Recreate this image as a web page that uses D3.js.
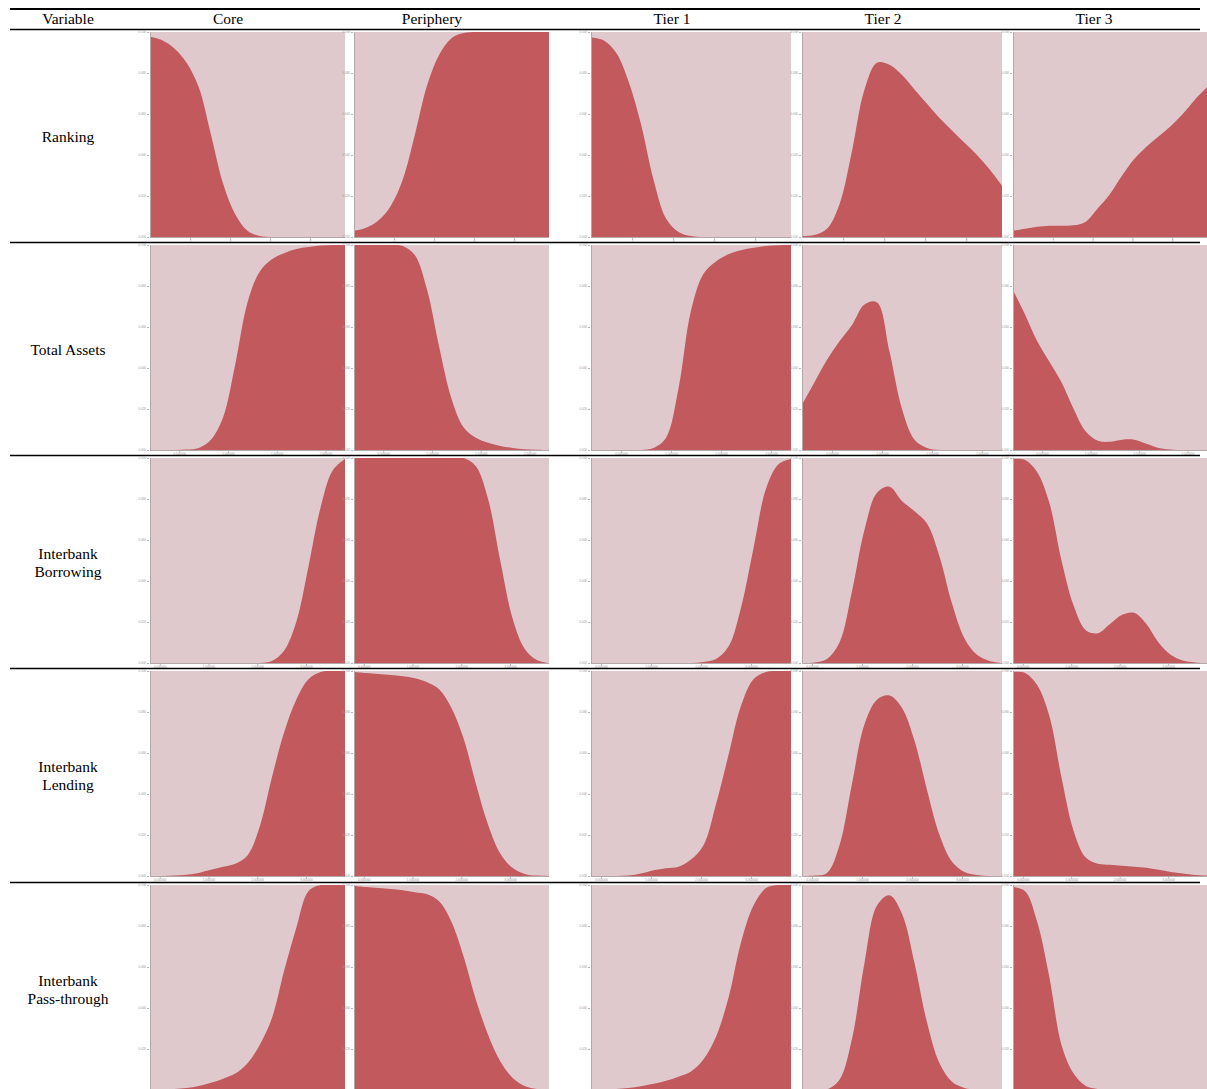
<!DOCTYPE html>
<html>
<head>
<meta charset="utf-8">
<script src="https://cdn.jsdelivr.net/npm/d3@7"></script>
<style>
  body { margin: 0; background: #fff; }
  svg { display: block; font-family: "Liberation Serif", "Times New Roman", serif; }
  .tick text { fill: #9a9a9a; }
  .tick line { stroke: #b5b5b5; }
  .domain { display: none; }
</style>
</head>
<body>
<div id="chart"></div>
<script>
const columns = ["Core", "Periphery", "Tier 1", "Tier 2", "Tier 3"];
const variables = [["Ranking"], ["Total Assets"], ["Interbank", "Borrowing"], ["Interbank", "Lending"], ["Interbank", "Pass-through"]];

// densities scaled to the panel height, 17 evenly spaced samples per panel
// order in each row: Core, Periphery, Tier 1, Tier 2, Tier 3
const ranking = [
  [0.977, 0.96, 0.92, 0.85, 0.73, 0.50, 0.26, 0.11, 0.03, 0.005, 0, 0, 0, 0, 0, 0, 0],
  [0.03, 0.045, 0.08, 0.15, 0.28, 0.50, 0.74, 0.89, 0.97, 0.995, 1, 1, 1, 1, 1, 1, 1],
  [0.975, 0.96, 0.90, 0.76, 0.55, 0.28, 0.09, 0.025, 0.005, 0, 0, 0, 0, 0, 0, 0, 0],
  [0.005, 0.01, 0.04, 0.16, 0.42, 0.72, 0.85, 0.84, 0.79, 0.72, 0.65, 0.58, 0.52, 0.46, 0.40, 0.33, 0.25],
  [0.03, 0.04, 0.05, 0.055, 0.055, 0.057, 0.075, 0.14, 0.21, 0.30, 0.38, 0.44, 0.49, 0.54, 0.60, 0.67, 0.73]
];
const totalAssets = [
  [0, 0, 0, 0.002, 0.01, 0.05, 0.16, 0.42, 0.72, 0.87, 0.93, 0.96, 0.98, 0.99, 0.997, 1, 1],
  [1, 1, 1, 1, 0.995, 0.95, 0.78, 0.50, 0.25, 0.11, 0.06, 0.035, 0.02, 0.01, 0.004, 0.001, 0],
  [0, 0, 0, 0, 0, 0.01, 0.06, 0.30, 0.68, 0.86, 0.92, 0.955, 0.975, 0.987, 0.995, 0.999, 1],
  [0.22, 0.33, 0.44, 0.53, 0.61, 0.71, 0.72, 0.48, 0.20, 0.05, 0.01, 0, 0, 0, 0, 0, 0],
  [0.78, 0.66, 0.53, 0.43, 0.33, 0.20, 0.09, 0.045, 0.04, 0.05, 0.05, 0.03, 0.01, 0.003, 0, 0, 0]
];
const borrowing = [
  [0, 0, 0, 0, 0, 0, 0, 0, 0, 0, 0.01, 0.06, 0.20, 0.47, 0.76, 0.94, 0.995],
  [1, 1, 1, 1, 1, 1, 1, 1, 1, 1, 0.96, 0.80, 0.50, 0.22, 0.07, 0.015, 0],
  [0, 0, 0, 0, 0, 0, 0, 0, 0, 0.005, 0.02, 0.08, 0.27, 0.56, 0.85, 0.97, 0.995],
  [0, 0.003, 0.02, 0.10, 0.35, 0.65, 0.83, 0.86, 0.79, 0.74, 0.68, 0.52, 0.29, 0.12, 0.04, 0.01, 0],
  [0.995, 0.99, 0.93, 0.78, 0.50, 0.28, 0.16, 0.145, 0.19, 0.235, 0.245, 0.19, 0.10, 0.04, 0.012, 0.003, 0]
];
const lending = [
  [0, 0, 0.002, 0.006, 0.015, 0.03, 0.045, 0.06, 0.10, 0.24, 0.48, 0.70, 0.86, 0.96, 0.995, 1, 1],
  [0.995, 0.99, 0.985, 0.98, 0.975, 0.965, 0.945, 0.91, 0.82, 0.67, 0.45, 0.25, 0.11, 0.04, 0.01, 0.002, 0],
  [0, 0, 0, 0.002, 0.012, 0.028, 0.038, 0.045, 0.08, 0.15, 0.35, 0.59, 0.83, 0.96, 0.995, 1, 1],
  [0, 0.002, 0.015, 0.15, 0.45, 0.74, 0.86, 0.88, 0.82, 0.66, 0.42, 0.20, 0.07, 0.02, 0.005, 0, 0],
  [0.995, 0.99, 0.93, 0.78, 0.48, 0.22, 0.09, 0.06, 0.055, 0.05, 0.045, 0.04, 0.03, 0.02, 0.012, 0.005, 0.002]
];
const passThrough = [
  [0, 0.002, 0.005, 0.01, 0.02, 0.035, 0.055, 0.08, 0.13, 0.22, 0.35, 0.58, 0.79, 0.97, 1, 1, 1],
  [0.995, 0.99, 0.985, 0.98, 0.975, 0.965, 0.955, 0.92, 0.82, 0.65, 0.44, 0.27, 0.14, 0.06, 0.02, 0.005, 0],
  [0, 0.002, 0.005, 0.01, 0.018, 0.03, 0.045, 0.065, 0.09, 0.15, 0.26, 0.45, 0.72, 0.90, 0.985, 1, 1],
  [0, 0, 0.003, 0.05, 0.25, 0.62, 0.90, 0.95, 0.86, 0.62, 0.33, 0.13, 0.04, 0.01, 0.002, 0, 0],
  [0.99, 0.97, 0.82, 0.55, 0.22, 0.08, 0.02, 0.005, 0, 0, 0, 0, 0, 0, 0, 0, 0]
];
const rows = [ranking, totalAssets, borrowing, lending, passThrough];

// axis labels of the small panels
const yTicks = [0, 0.2, 0.4, 0.6, 0.8, 1];
const yTickLabels = ["0.000", "0.020", "0.040", "0.060", "0.080", "0.100"];
const xDomains = [[0, 9.75], [0.2, 2.2], [-0.2, 3.8], [-0.2, 3.8], [-0.2, 3.8]];
const xTicks = [[2, 4, 6, 8], [0.5, 1, 1.5, 2], [0, 1, 2, 3], [0, 1, 2, 3], []];

// page layout
const width = 1207, height = 1089;
const colLeft = [150, 354, 591, 802, 1013];
const colWidth = [195, 195, 200, 200, 194];
const headerX = [228, 432, 672, 883, 1094];
const rowTop = [30, 243, 456, 669, 883];
const plotTopPad = 2, plotH = 205;
const red = "#c1595d", pink = "#dfc9cc";

const svg = d3.select("#chart").append("svg")
  .attr("width", width)
  .attr("height", height);

// table rules
svg.append("line").attr("x1", 10).attr("x2", 1200).attr("y1", 9).attr("y2", 9)
  .attr("stroke", "#000").attr("stroke-width", 2);
svg.append("line").attr("x1", 10).attr("x2", 1200).attr("y1", 29.5).attr("y2", 29.5)
  .attr("stroke", "#000").attr("stroke-width", 1.5);

svg.append("text").attr("x", 68).attr("y", 24).attr("text-anchor", "middle")
  .attr("font-size", 15.5).text("Variable");
svg.selectAll(".colhead").data(columns).enter().append("text")
  .attr("class", "colhead")
  .attr("x", (d, i) => headerX[i]).attr("y", 24)
  .attr("text-anchor", "middle").attr("font-size", 15.5)
  .text(d => d);

rows.forEach((row, r) => {
  const top = rowTop[r] + plotTopPad;
  const bottom = top + plotH;

  if (r > 0) {
    svg.append("line").attr("x1", 10).attr("x2", 1200)
      .attr("y1", rowTop[r] - 0.5).attr("y2", rowTop[r] - 0.5)
      .attr("stroke", "#000").attr("stroke-width", 1.5);
  }

  // row label
  const lines = variables[r];
  const midY = rowTop[r] + 112 - (lines.length - 1) * 9;
  lines.forEach((t, k) => {
    svg.append("text").attr("x", 68).attr("y", midY + k * 18)
      .attr("text-anchor", "middle").attr("font-size", 15.5).text(t);
  });

  row.forEach((values, c) => {
    const L = colLeft[c], W = colWidth[c];
    const g = svg.append("g");

    const x = d3.scaleLinear().domain([0, values.length - 1]).range([L, L + W]);
    const y = d3.scaleLinear().domain([0, 1]).range([bottom, top]);
    const xv = d3.scaleLinear().domain(xDomains[r]).range([L, L + W]);

    const clipId = "clip-" + r + "-" + c;
    g.append("clipPath").attr("id", clipId)
      .append("rect").attr("x", L).attr("y", top).attr("width", W).attr("height", plotH);

    g.append("rect").attr("x", L).attr("y", top).attr("width", W).attr("height", plotH)
      .attr("fill", pink);

    const area = d3.area()
      .x((d, i) => x(i))
      .y0(y(0))
      .y1(d => y(d))
      .curve(d3.curveCatmullRom.alpha(0.5));

    g.append("path").datum(values)
      .attr("clip-path", "url(#" + clipId + ")")
      .attr("d", area)
      .attr("fill", red);

    // thin frame on the left and bottom
    g.append("line").attr("x1", L + 0.5).attr("x2", L + 0.5).attr("y1", top).attr("y2", bottom)
      .attr("stroke", "#b3a7a9").attr("stroke-width", 1);
    g.append("line").attr("x1", L).attr("x2", L + W).attr("y1", bottom + 0.5).attr("y2", bottom + 0.5)
      .attr("stroke", "#b3a7a9").attr("stroke-width", 1);

    // y ticks that still fall inside the page
    const shownY = yTicks.filter(v => y(v) < height - 3);
    g.append("g")
      .attr("transform", "translate(" + (L - 1) + ",0)")
      .call(d3.axisLeft(y).tickValues(shownY).tickSize(2).tickPadding(1)
        .tickFormat(d => yTickLabels[yTicks.indexOf(d)]))
      .attr("font-size", 3);

    if (xTicks[r].length) {
      g.append("g")
        .attr("transform", "translate(0," + (bottom + 1) + ")")
        .call(d3.axisBottom(xv).tickValues(xTicks[r]).tickSize(1.5).tickPadding(0.5)
          .tickFormat(r === 0 ? d3.format("d") : d3.format(".6f")))
        .attr("font-size", 3);
    }
  });
});
</script>
</body>
</html>
